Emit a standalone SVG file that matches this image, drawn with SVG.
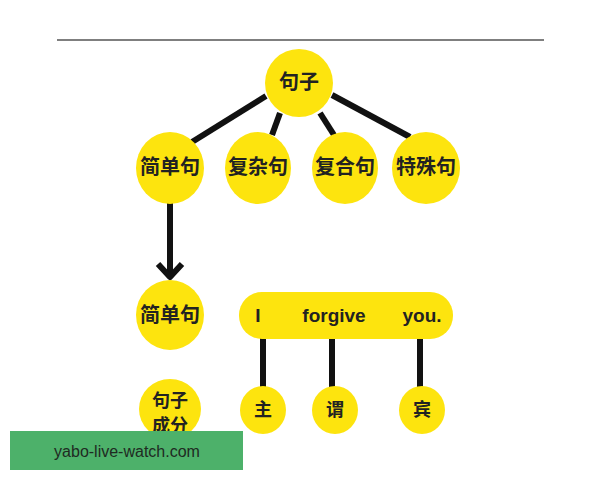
<svg xmlns="http://www.w3.org/2000/svg" width="600" height="480" viewBox="0 0 600 480">
<defs>
<style>
.n{fill:#FDE40E;stroke:none}
.t{font-family:"Liberation Sans","Noto Sans CJK SC",sans-serif;font-weight:bold;fill:#222;text-anchor:middle;dominant-baseline:central}
.e{stroke:#111;stroke-width:6;fill:none;stroke-linecap:butt}
</style>
</defs>
<rect width="600" height="480" fill="#fff"/>
<line x1="57" y1="40" x2="544" y2="40" stroke="#555" stroke-width="1.3"/>
<g id="connectors">
<line class="e" x1="266" y1="96" x2="192" y2="142"/>
<line class="e" x1="280" y1="113" x2="272" y2="135"/>
<line class="e" x1="320" y1="113" x2="334" y2="135"/>
<line class="e" x1="332" y1="95" x2="410" y2="137"/>
<line class="e" x1="170" y1="203" x2="170" y2="276"/>
<polyline class="e" points="158,264 170,277 182,264" stroke-linejoin="round" stroke-linecap="round"/>
<line class="e" x1="263" y1="338" x2="263" y2="388"/>
<line class="e" x1="332" y1="338" x2="332" y2="388"/>
<line class="e" x1="420" y1="338" x2="420" y2="388"/>
</g>
<g id="n-juzi"><ellipse class="n" cx="299" cy="83" rx="34" ry="34"/><text class="t" x="299" y="82" font-size="20">句子</text></g>
<g id="n-jiandan"><ellipse class="n" cx="170" cy="168" rx="34" ry="36"/><text class="t" x="170" y="167" font-size="20">简单句</text></g>
<g id="n-fuza"><ellipse class="n" cx="258" cy="168" rx="33" ry="36"/><text class="t" x="258" y="167" font-size="20">复杂句</text></g>
<g id="n-fuhe"><ellipse class="n" cx="345" cy="168" rx="33" ry="36"/><text class="t" x="345" y="167" font-size="20">复合句</text></g>
<g id="n-teshu"><ellipse class="n" cx="426" cy="168" rx="34" ry="36"/><text class="t" x="426" y="167" font-size="20">特殊句</text></g>
<g id="n-jiandan2"><ellipse class="n" cx="170" cy="315" rx="34" ry="35"/><text class="t" x="170" y="315" font-size="20">简单句</text></g>
<g id="n-sentence"><rect class="n" x="239" y="292" width="214" height="47" rx="23"/>
<text class="t" x="258" y="315" font-size="19">I</text>
<text class="t" x="334" y="315" font-size="19">forgive</text>
<text class="t" x="422" y="315" font-size="19">you.</text></g>
<g id="n-chengfen"><ellipse class="n" cx="170" cy="409" rx="31" ry="30"/><text class="t" x="170" y="401" font-size="18">句子</text><text class="t" x="170" y="426" font-size="18">成分</text></g>
<g id="n-zhu"><ellipse class="n" cx="263" cy="410" rx="23" ry="24"/><text class="t" x="263" y="410" font-size="18">主</text></g>
<g id="n-wei"><ellipse class="n" cx="335" cy="410" rx="23" ry="24"/><text class="t" x="335" y="410" font-size="18">谓</text></g>
<g id="n-bin"><ellipse class="n" cx="422" cy="410" rx="23" ry="24"/><text class="t" x="422" y="410" font-size="18">宾</text></g>
<g id="watermark"><rect x="10" y="431" width="233" height="39" fill="#4DB16A"/><text x="127" y="451" font-family="'Liberation Sans',sans-serif" font-size="16" fill="#1f2a22" text-anchor="middle" dominant-baseline="central">yabo-live-watch.com</text></g>
</svg>
